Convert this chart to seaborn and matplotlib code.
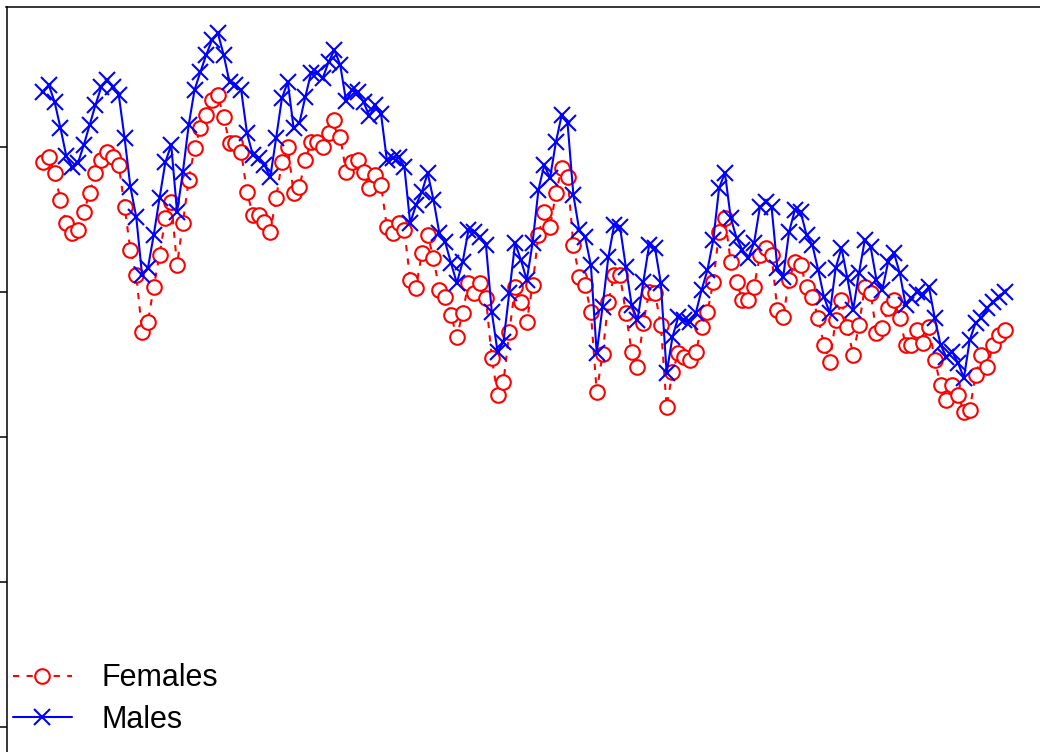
import numpy as np
import pandas as pd
import matplotlib
matplotlib.use("Agg")
import matplotlib.pyplot as plt
import seaborn as sns

# ─────────────────────────────────────────────
# Data (arbitrary units; y ticks every 145)
# ─────────────────────────────────────────────

males = [
    635, 642, 625, 599, 571, 560, 564, 582, 602, 622, 640, 647, 640, 632, 589,
    540, 510, 452, 459, 492, 529, 565, 582, 515, 555, 602, 637, 655, 672, 687,
    694, 672, 645, 642, 637, 594, 572, 569, 562, 550, 589, 629, 645, 599, 604,
    630, 654, 654, 649, 665, 677, 662, 626, 637, 635, 625, 611, 622, 613,
    567, 569, 570, 560, 504, 522, 535, 554, 527, 494, 485, 464, 444, 465, 497,
    495, 490, 482, 415, 375, 385, 434,
    484, 467, 447, 484, 537, 562, 549, 585, 612, 604, 532, 497, 490, 462, 374,
    420, 470, 502, 500, 460, 422, 407,
    445, 482, 479, 444, 354, 390, 410, 407, 405, 414, 437, 457, 487, 539, 554,
    509, 489, 477, 469, 484,
    520, 525, 520, 459, 450, 495, 517, 515, 492, 482, 457, 430, 414, 459, 479,
    449, 417, 454, 487, 480, 447,
    437, 465, 474, 454, 422, 429, 435, 432, 440, 409, 382, 370, 375, 364, 349,
    387, 404, 409, 419, 425, 430, 435,
]

females = [
    565, 570, 554, 527, 504, 494, 497, 515, 534, 554, 567, 575, 570, 562, 520,
    477, 452, 395, 405, 440, 472, 509, 525, 462, 504, 547, 579, 599, 612, 627,
    632, 610, 584, 584, 575, 535, 512, 512, 505, 495, 529, 565, 580, 534, 540,
    567, 585, 585, 580, 594, 607, 590, 555, 565, 567, 555, 539, 552, 542,
    500, 494, 504, 497, 447, 439, 474, 492, 469, 437, 430, 412, 390, 414, 444,
    434, 444, 429, 369, 332, 345, 395,
    440, 425, 405, 442, 492, 515, 500, 534, 559, 550, 482, 450, 442, 415, 335,
    373, 425, 452, 452, 414, 375, 360,
    404, 435, 434, 402, 320, 355, 374, 370, 367, 375, 400, 415, 445, 495, 509,
    465, 445, 427, 427, 440,
    472, 479, 472, 417, 410, 447, 465, 462, 440, 430, 409, 382, 365, 407, 427,
    400, 372, 402, 440, 434, 394,
    399, 419, 427, 409, 382, 382, 397, 384, 400, 367, 342, 327, 342, 332, 315,
    317, 352, 372, 360, 382, 392, 397,
]

yticks = [0, 145, 290, 435, 580]

idx = np.arange(len(males))

# ─────────────────────────────────────────────
# Plot
# ─────────────────────────────────────────────

sns.set_style("ticks")
plt.rcParams["font.family"] = ["Liberation Sans", "DejaVu Sans"]
plt.rcParams["text.color"] = "black"

fig = plt.figure(figsize=(10.4, 7.52), dpi=100)
# axes is cropped: only left and top spines fall inside the canvas
ax = fig.add_axes([6.5 / 1040, -150 / 752, 1137.5 / 1040, 895 / 752])

sns.lineplot(x=idx, y=females, ax=ax, color="red", lw=1.5,
             marker="o", ms=10.5, mfc="white", mec="red", mew=1.5,
             label="Females")
sns.lineplot(x=idx, y=males, ax=ax, color="blue", lw=1.5,
             marker="x", ms=12, mec="blue", mew=1.5,
             label="Males")

ax.lines[0].set_dashes([3, 3.5])

ax.set_xlim(-6.26, 188.9)
ax.set_ylim(-175, 720)
ax.set_yticks(yticks)
ax.set_yticklabels([])
ax.set_xticks([])
ax.set_xlabel("")
ax.set_ylabel("")
ax.tick_params(axis="y", direction="out", length=7, width=1.1, color="black")

for side in ["left", "top", "right", "bottom"]:
    ax.spines[side].set_visible(True)
    ax.spines[side].set_linewidth(1.1)
    ax.spines[side].set_color("black")

leg = ax.legend(loc="lower left", bbox_to_anchor=(13 / 1040, 17 / 752),
                bbox_transform=fig.transFigure, frameon=False,
                fontsize=22, handlelength=1.93, handletextpad=0.98,
                labelspacing=0.38, borderpad=0, borderaxespad=0)
for t in leg.get_texts():
    t.set_color("black")

fig.savefig("out.png", dpi=100)
plt.close(fig)
